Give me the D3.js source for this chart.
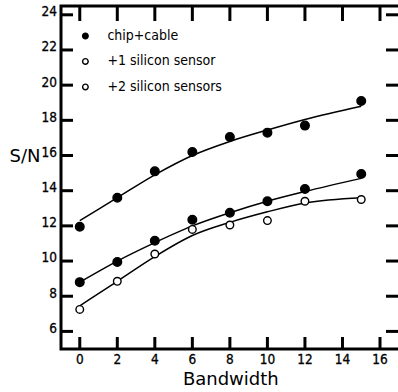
<!DOCTYPE html>
<html>
<head>
<meta charset="utf-8">
<script src="https://cdn.jsdelivr.net/npm/d3@7"></script>
<style>
  html, body { margin: 0; padding: 0; background: #fff; overflow: hidden; }
  svg { display: block; }
  text { font-family: 'DejaVu Sans Condensed', 'DejaVu Sans', sans-serif; fill: #000; }
</style>
</head>
<body>
<div id="chart"></div>
<script>
// measured points
const bandwidth = [0, 2, 4, 6, 8, 10, 12, 15];
const chipCable = [11.95, 13.6, 15.1, 16.2, 17.05, 17.3, 17.7, 19.1];
const oneSensor = [8.8, 9.95, 11.15, 12.35, 12.75, 13.4, 14.1, 14.95];
const twoSensors = [7.25, 8.85, 10.4, 11.8, 12.05, 12.3, 13.4, 13.5];

// fitted curves at the same bandwidths
const chipCableFit = [12.3, 13.6, 14.9, 16.0, 16.8, 17.45, 18.05, 18.8];
const oneSensorFit = [8.8, 10.0, 11.05, 12.0, 12.75, 13.4, 13.95, 14.7];
const twoSensorsFit = [7.45, 8.85, 10.25, 11.45, 12.2, 12.8, 13.3, 13.6];

const xTicks = [0, 2, 4, 6, 8, 10, 12, 14, 16];
const yTicks = [6, 8, 10, 12, 14, 16, 18, 20, 22, 24];
const legendLabels = ['chip+cable', '+1 silicon sensor', '+2 silicon sensors'];

const W = 398, H = 392;
const margin = {top: 6, right: -4, bottom: 43, left: 61};
const width = W - margin.left - margin.right,
      height = H - margin.top - margin.bottom;

const svg = d3.select('#chart').append('svg')
    .attr('width', W).attr('height', H)
  .append('g')
    .attr('transform', 'translate(' + margin.left + ',' + margin.top + ')');

// x=0 at px 80, x=16 at px 380 in the reference
const x = d3.scaleLinear().domain([-1, 16]).range([0, 319]);
const y = d3.scaleLinear().domain([5, 24.5]).range([height, 0]);

// frame
svg.append('rect')
    .attr('x', 0).attr('y', 0)
    .attr('width', width).attr('height', height)
    .attr('fill', 'none')
    .attr('stroke', '#000')
    .attr('stroke-width', 3);

const tickLen = 12;

// bottom ticks + labels
const xg = svg.append('g');
xg.selectAll('line.bt').data(xTicks).enter().append('line')
    .attr('x1', d => x(d)).attr('x2', d => x(d))
    .attr('y1', height).attr('y2', height - tickLen)
    .attr('stroke', '#000').attr('stroke-width', 3);
xg.selectAll('line.tt').data(xTicks).enter().append('line')
    .attr('x1', d => x(d)).attr('x2', d => x(d))
    .attr('y1', 0).attr('y2', 15)
    .attr('stroke', '#000').attr('stroke-width', 3);
xg.selectAll('text').data(xTicks).enter().append('text')
    .attr('x', d => x(d)).attr('y', height + 15)
    .attr('text-anchor', 'middle')
    .style('font-size', '13.5px')
    .style('stroke', '#000').style('stroke-width', 0.3)
    .text(d => d);

// left + right ticks
const yg = svg.append('g');
yg.selectAll('line.lt').data(yTicks).enter().append('line')
    .attr('x1', 0).attr('x2', tickLen)
    .attr('y1', d => y(d)).attr('y2', d => y(d))
    .attr('stroke', '#000').attr('stroke-width', 3);
yg.selectAll('line.rt').data(yTicks).enter().append('line')
    .attr('x1', width).attr('x2', width - 16)
    .attr('y1', d => y(d)).attr('y2', d => y(d))
    .attr('stroke', '#000').attr('stroke-width', 3);
yg.selectAll('text').data(yTicks).enter().append('text')
    .attr('x', -4).attr('y', d => y(d))
    .attr('dy', '0.1em')
    .attr('text-anchor', 'end')
    .style('font-size', '13.5px')
    .style('stroke', '#000').style('stroke-width', 0.3)
    .text(d => d);

// axis titles
svg.append('text')
    .attr('x', -36).attr('y', y(15.9))
    .attr('text-anchor', 'middle')
    .attr('dominant-baseline', 'middle')
    .style('font-family', "'DejaVu Sans', sans-serif")
    .style('font-size', '18px')
    .text('S/N');
svg.append('text')
    .attr('x', x(8.05)).attr('y', height + 36)
    .attr('text-anchor', 'middle')
    .style('font-family', "'DejaVu Sans', sans-serif")
    .style('font-size', '18px')
    .text('Bandwidth');

// fit curves
const line = d3.line()
    .x((d, i) => x(bandwidth[i]))
    .y(d => y(d))
    .curve(d3.curveMonotoneX);

[chipCableFit, oneSensorFit, twoSensorsFit].forEach(fit => {
  svg.append('path')
      .attr('d', line(fit))
      .attr('fill', 'none')
      .attr('stroke', '#000')
      .attr('stroke-width', 1.5);
});

// points
const series = [
  {vals: chipCable, open: false},
  {vals: oneSensor, open: false},
  {vals: twoSensors, open: true}
];
series.forEach(s => {
  svg.append('g').selectAll('circle')
      .data(s.vals).enter().append('circle')
      .attr('cx', (d, i) => x(bandwidth[i]))
      .attr('cy', d => y(d))
      .attr('r', s.open ? 3.8 : 4.3)
      .attr('fill', s.open ? '#fff' : '#000')
      .attr('stroke', '#000')
      .attr('stroke-width', 1.4);
});

// legend
const lg = svg.append('g').attr('transform', 'translate(' + (x(0.3)) + ',' + y(22.8) + ')');
legendLabels.forEach((lab, i) => {
  const row = lg.append('g').attr('transform', 'translate(0,' + (i * 25.5) + ')');
  row.append('circle')
      .attr('cx', 0).attr('cy', 0)
      .attr('r', 2.8)
      .attr('fill', i === 0 ? '#000' : '#fff')
      .attr('stroke', '#000')
      .attr('stroke-width', 1.4);
  row.append('text')
      .attr('x', 22).attr('y', 0)
      .attr('dominant-baseline', 'middle')
      .style('font-size', '14px')
      .text(lab);
});
</script>
</body>
</html>
